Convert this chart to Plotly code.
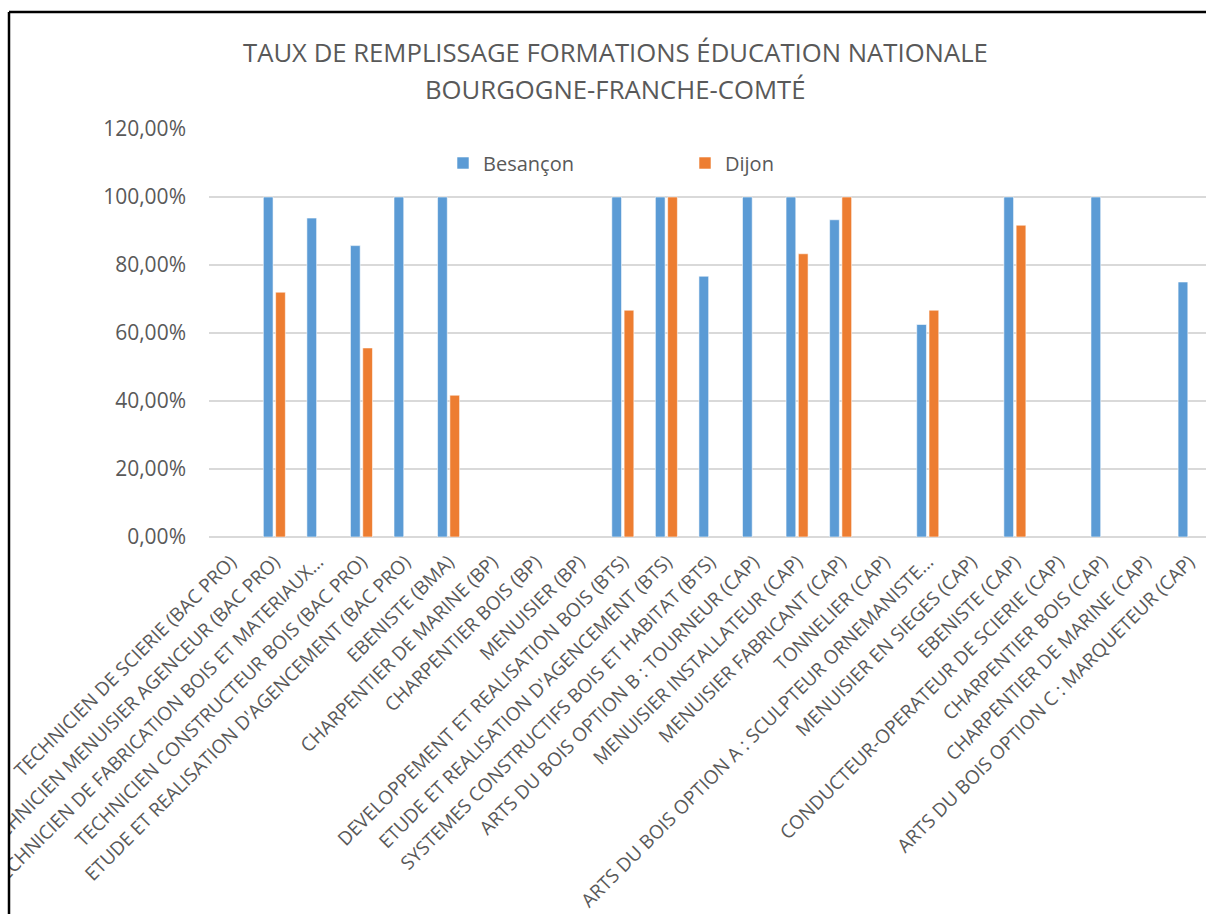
import plotly.graph_objects as go

# Formations (x axis categories)
formations = [
    "TECHNICIEN DE SCIERIE (BAC PRO)",
    "TECHNICIEN MENUISIER AGENCEUR (BAC PRO)",
    "TECHNICIEN DE FABRICATION BOIS ET MATERIAUX...",
    "TECHNICIEN CONSTRUCTEUR BOIS (BAC PRO)",
    "ETUDE ET REALISATION D'AGENCEMENT (BAC PRO)",
    "EBENISTE (BMA)",
    "CHARPENTIER DE MARINE (BP)",
    "CHARPENTIER BOIS (BP)",
    "MENUISIER (BP)",
    "DEVELOPPEMENT ET REALISATION BOIS (BTS)",
    "ETUDE ET REALISATION D'AGENCEMENT (BTS)",
    "SYSTEMES CONSTRUCTIFS BOIS ET HABITAT (BTS)",
    "ARTS DU BOIS OPTION B : TOURNEUR (CAP)",
    "MENUISIER INSTALLATEUR (CAP)",
    "MENUISIER FABRICANT (CAP)",
    "TONNELIER (CAP)",
    "ARTS DU BOIS OPTION A : SCULPTEUR ORNEMANISTE...",
    "MENUISIER EN SIEGES (CAP)",
    "EBENISTE (CAP)",
    "CONDUCTEUR-OPERATEUR DE SCIERIE (CAP)",
    "CHARPENTIER BOIS (CAP)",
    "CHARPENTIER DE MARINE (CAP)",
    "ARTS DU BOIS OPTION C : MARQUETEUR (CAP)",
]

# Fill rates (fraction of capacity); None = no class in that academy
besancon = [None, 1.0, 0.938, 0.857, 1.0, 1.0, None, None, None, 1.0, 1.0, 0.767,
            1.0, 1.0, 0.933, None, 0.625, None, 1.0, None, 1.0, None, 0.75]
dijon = [None, 0.72, None, 0.556, None, 0.417, None, None, None, 0.667, 1.0, None,
         None, 0.833, 1.0, None, 0.667, None, 0.917, None, None, None, None]

series_names = ["Besançon", "Dijon"]
series_colors = ["#5B9BD5", "#ED7D31"]

y_ticks = [0, 0.2, 0.4, 0.6, 0.8, 1.0, 1.2]

title_lines = ["TAUX DE REMPLISSAGE FORMATIONS ÉDUCATION NATIONALE",
               "BOURGOGNE-FRANCHE-COMTÉ"]

# ---- layout geometry (pixels) ----
FIG_W, FIG_H = 1206, 914
M_L, M_R, M_T, M_B = 209, 0, 129, 377
PLOT_W = FIG_W - M_L - M_R
PLOT_H = FIG_H - M_T - M_B
CAT_PX = 43.56  # width of one category band
x_hi = -0.5 + PLOT_W / CAT_PX

TEXT = "#595959"
FONT = "Open Sans"


def px_x(p):
    return (p - M_L) / PLOT_W


def px_y(p):
    return (FIG_H - M_B - p) / PLOT_H


fig = go.Figure()
for name, vals, col in zip(series_names, [besancon, dijon], series_colors):
    fig.add_trace(go.Bar(
        name=name, x=formations, y=vals,
        marker=dict(color=col, line=dict(color="rgba(255,255,255,0.7)", width=0.8)),
    ))

fig.update_layout(
    width=FIG_W, height=FIG_H,
    margin=dict(l=M_L, r=M_R, t=M_T, b=M_B, autoexpand=False),
    paper_bgcolor="white", plot_bgcolor="white",
    separators=", ",
    barmode="group", bargap=0.435, bargroupgap=0.21,
    font=dict(family=FONT, color=TEXT, size=19),
    showlegend=True,
    legend=dict(
        orientation="h", x=px_x(443), y=px_y(163), xanchor="left", yanchor="middle",
        font=dict(size=20, color=TEXT, family=FONT),
        entrywidth=197, entrywidthmode="pixels",
        bgcolor="rgba(0,0,0,0)",
    ),
    xaxis=dict(
        type="category", range=[-0.5, x_hi], automargin=False,
        tickangle=-45, tickfont=dict(size=19, color=TEXT, family=FONT),
        showgrid=False, showline=False, zeroline=False, ticks="",
        ticklabelstandoff=9,
    ),
    yaxis=dict(
        range=[0, 1.2], tickvals=y_ticks, tickformat=".2%", automargin=False,
        tickfont=dict(size=21, color=TEXT, family=FONT),
        showgrid=True, gridcolor="#D9D9D9", gridwidth=1.5,
        zeroline=True, zerolinecolor="#D9D9D9", zerolinewidth=1.5,
        showline=False, ticks="", ticklabelstandoff=22,
    ),
)

# Title (two centred lines)
for txt, yp in zip(title_lines, [52, 90]):
    fig.add_annotation(
        text=txt, xref="paper", yref="paper", x=px_x(615), y=px_y(yp),
        xanchor="center", yanchor="middle", showarrow=False,
        font=dict(size=25.7, color=TEXT, family=FONT),
    )

# Chart frame: white strip outside the frame, then black left and top edges
fig.add_shape(type="rect", xref="paper", yref="paper", layer="above",
              x0=px_x(0), x1=px_x(8), y0=px_y(FIG_H), y1=px_y(0),
              fillcolor="white", line=dict(width=0))
fig.add_shape(type="line", xref="paper", yref="paper", layer="above",
              x0=px_x(9), x1=px_x(9), y0=px_y(FIG_H), y1=px_y(12),
              line=dict(color="black", width=2.5))
fig.add_shape(type="line", xref="paper", yref="paper", layer="above",
              x0=px_x(9), x1=px_x(FIG_W), y0=px_y(12), y1=px_y(12),
              line=dict(color="black", width=2.5))

fig.write_html(
    "out.html",
    post_script="document.documentElement.style.overflow='hidden';"
                "document.body.style.overflow='hidden';",
)
